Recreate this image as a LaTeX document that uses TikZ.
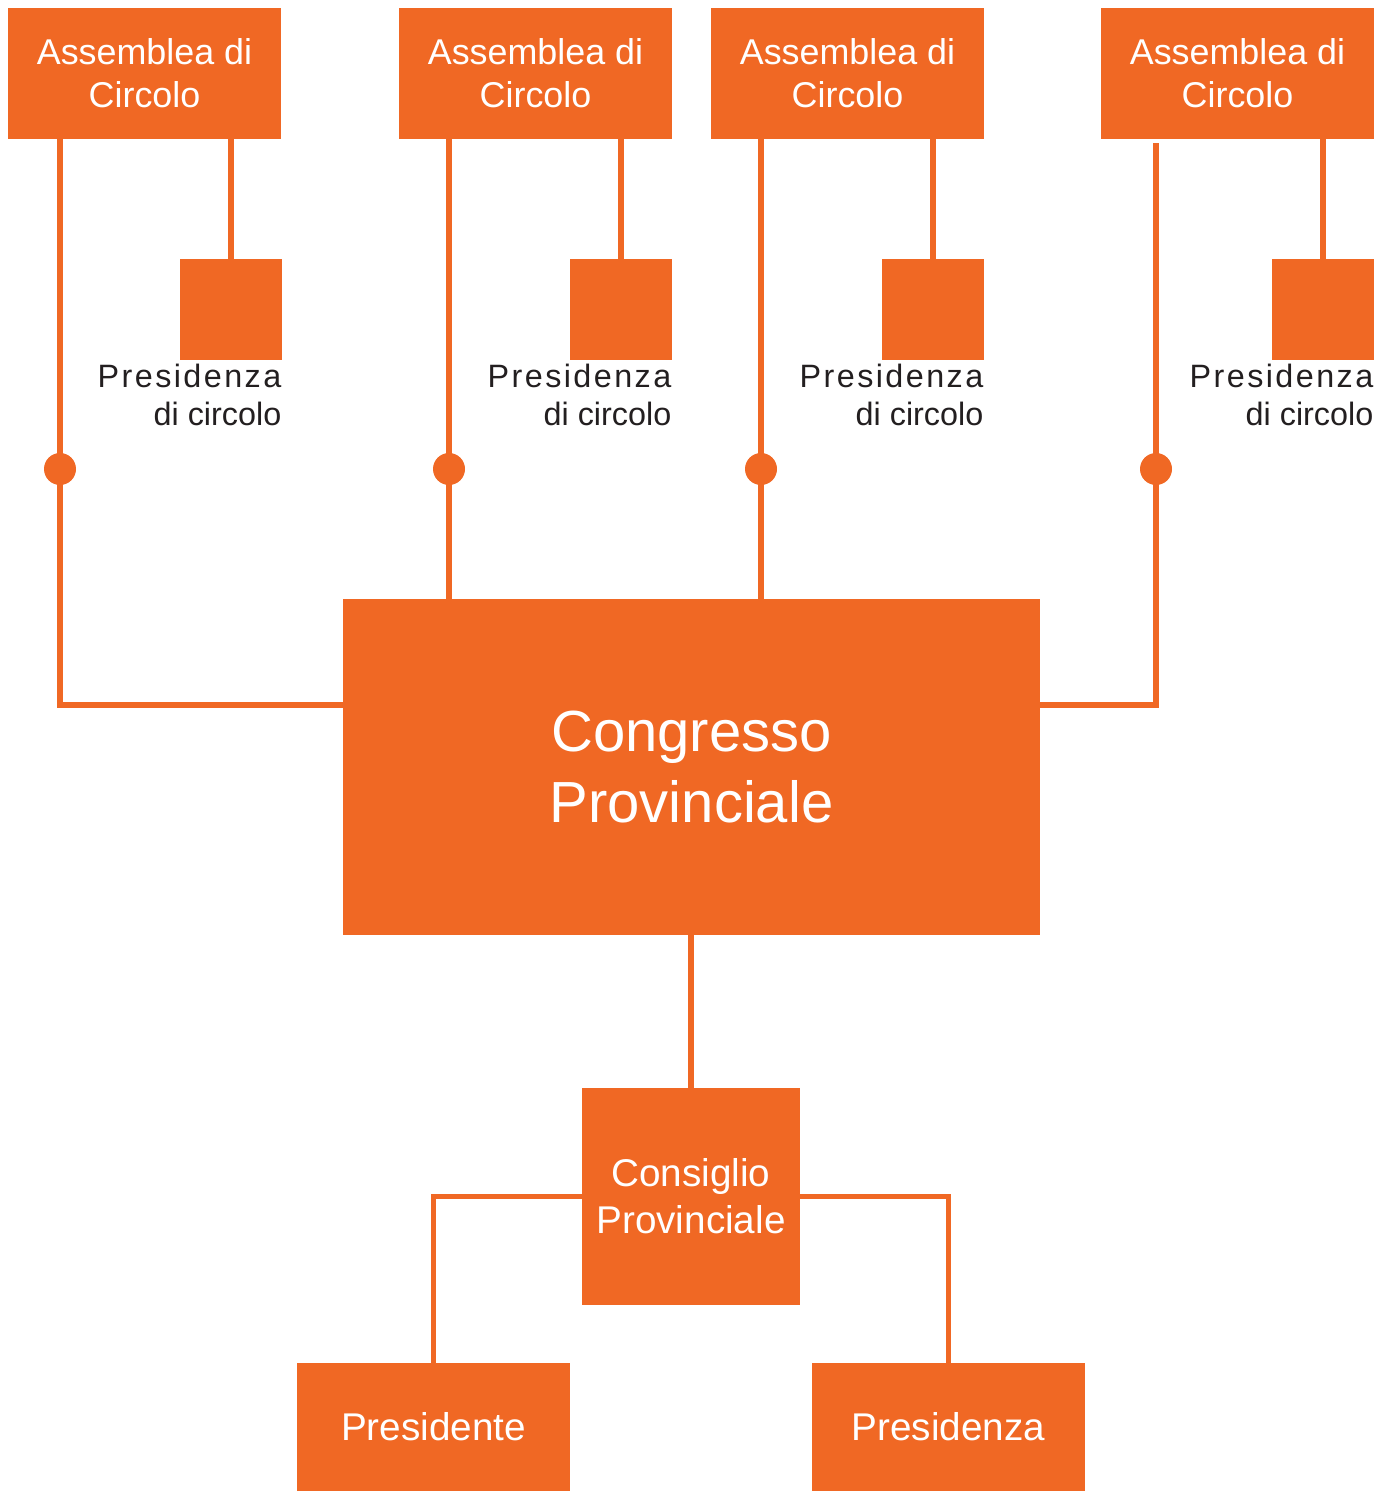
\documentclass[tikz,border=0pt]{standalone}
\usepackage{fontspec}
\setmainfont{Liberation Sans}
\newfontfamily\spaziato[LetterSpace=7.5]{Liberation Sans}
\usepackage{xcolor}
\usepackage{tikz}
\usetikzlibrary{positioning,calc}
\definecolor{arancio}{HTML}{F06824}
\definecolor{testo}{HTML}{231F20}
\tikzset{
  blk/.style={rectangle, fill=arancio, draw=none, text=white, align=center,
              inner sep=0pt, outer sep=0pt},
  assemblea/.style={blk, minimum width=27.3mm, minimum height=13.1mm,
              font=\fontsize{10.2}{12.2}\selectfont},
  quad/.style={blk, minimum width=10.2mm, minimum height=10.1mm},
  lbl/.style={font=\fontsize{9.2}{11}\selectfont, color=testo, align=right,
              inner sep=0pt, anchor=north east, yshift=-0.3mm},
  dot/.style={circle, fill=arancio, draw=none, minimum size=3.2mm, inner sep=0pt},
  ln/.style={draw=arancio, line width=1.6pt},
}
\begin{document}
\begin{tikzpicture}
  \useasboundingbox (0,0) rectangle (13.90,-14.92);

  \node[assemblea] (a1) at (1.445,-0.735) {Assemblea di\\Circolo};
  \node[assemblea] (a2) at (5.355,-0.735) {Assemblea di\\Circolo};
  \node[assemblea] (a3) at (8.475,-0.735) {Assemblea di\\Circolo};
  \node[assemblea] (a4) at (12.375,-0.735) {Assemblea di\\Circolo};

  \node[quad] (p1) at (2.31,-3.095) {};
  \node[quad] (p2) at (6.21,-3.095) {};
  \node[quad] (p3) at (9.33,-3.095) {};
  \node[quad] (p4) at (13.23,-3.095) {};

  \node[lbl] (l1) at (p1.south east) {{\spaziato Presidenza}\\di circolo};
  \node[lbl] (l2) at (p2.south east) {{\spaziato Presidenza}\\di circolo};
  \node[lbl] (l3) at (p3.south east) {{\spaziato Presidenza}\\di circolo};
  \node[lbl] (l4) at (p4.south east) {{\spaziato Presidenza}\\di circolo};

  \node[blk, minimum width=69.7mm, minimum height=33.6mm,
        font=\fontsize{16.5}{20}\selectfont] (cg) at (6.915,-7.67) {Congresso\\Provinciale};
  \node[blk, minimum width=21.8mm, minimum height=21.7mm,
        font=\fontsize{11}{13.4}\selectfont] (cp) at (6.91,-11.965) {Consiglio\\Provinciale};
  \node[blk, minimum width=27.3mm, minimum height=12.8mm,
        font=\fontsize{11}{13.2}\selectfont] (pt) at (4.335,-14.27) {Presidente};
  \node[blk, minimum width=27.3mm, minimum height=12.8mm,
        font=\fontsize{11}{13.2}\selectfont] (pz) at (9.485,-14.27) {Presidenza};

  \coordinate (j1) at (0.60,-7.05);
  \coordinate (j4) at (11.56,-7.05);

  \draw[ln] (p1.north) -- (p1.north |- a1.south);
  \draw[ln] (p2.north) -- (p2.north |- a2.south);
  \draw[ln] (p3.north) -- (p3.north |- a3.south);
  \draw[ln] (p4.north) -- (p4.north |- a4.south);

  \draw[ln] (j1 |- a1.south) -- (j1) -- (j1 -| cg.west);
  \draw[ln] (4.49,0 |- a2.south) -- (4.49,0 |- cg.north);
  \draw[ln] (7.61,0 |- a3.south) -- (7.61,0 |- cg.north);
  \draw[ln] ([yshift=-0.4mm]j4 |- a4.south) -- (j4) -- (j4 -| cg.east);

  \node[dot] (d1) at (0.60,-4.69) {};
  \node[dot] (d2) at (4.49,-4.69) {};
  \node[dot] (d3) at (7.61,-4.69) {};
  \node[dot] (d4) at (11.56,-4.69) {};

  \draw[ln] (cg.south -| cp.north) -- (cp.north);
  \draw[ln] (cp.west) -| (pt.north);
  \draw[ln] (cp.east) -| (pz.north);
\end{tikzpicture}
\end{document}
